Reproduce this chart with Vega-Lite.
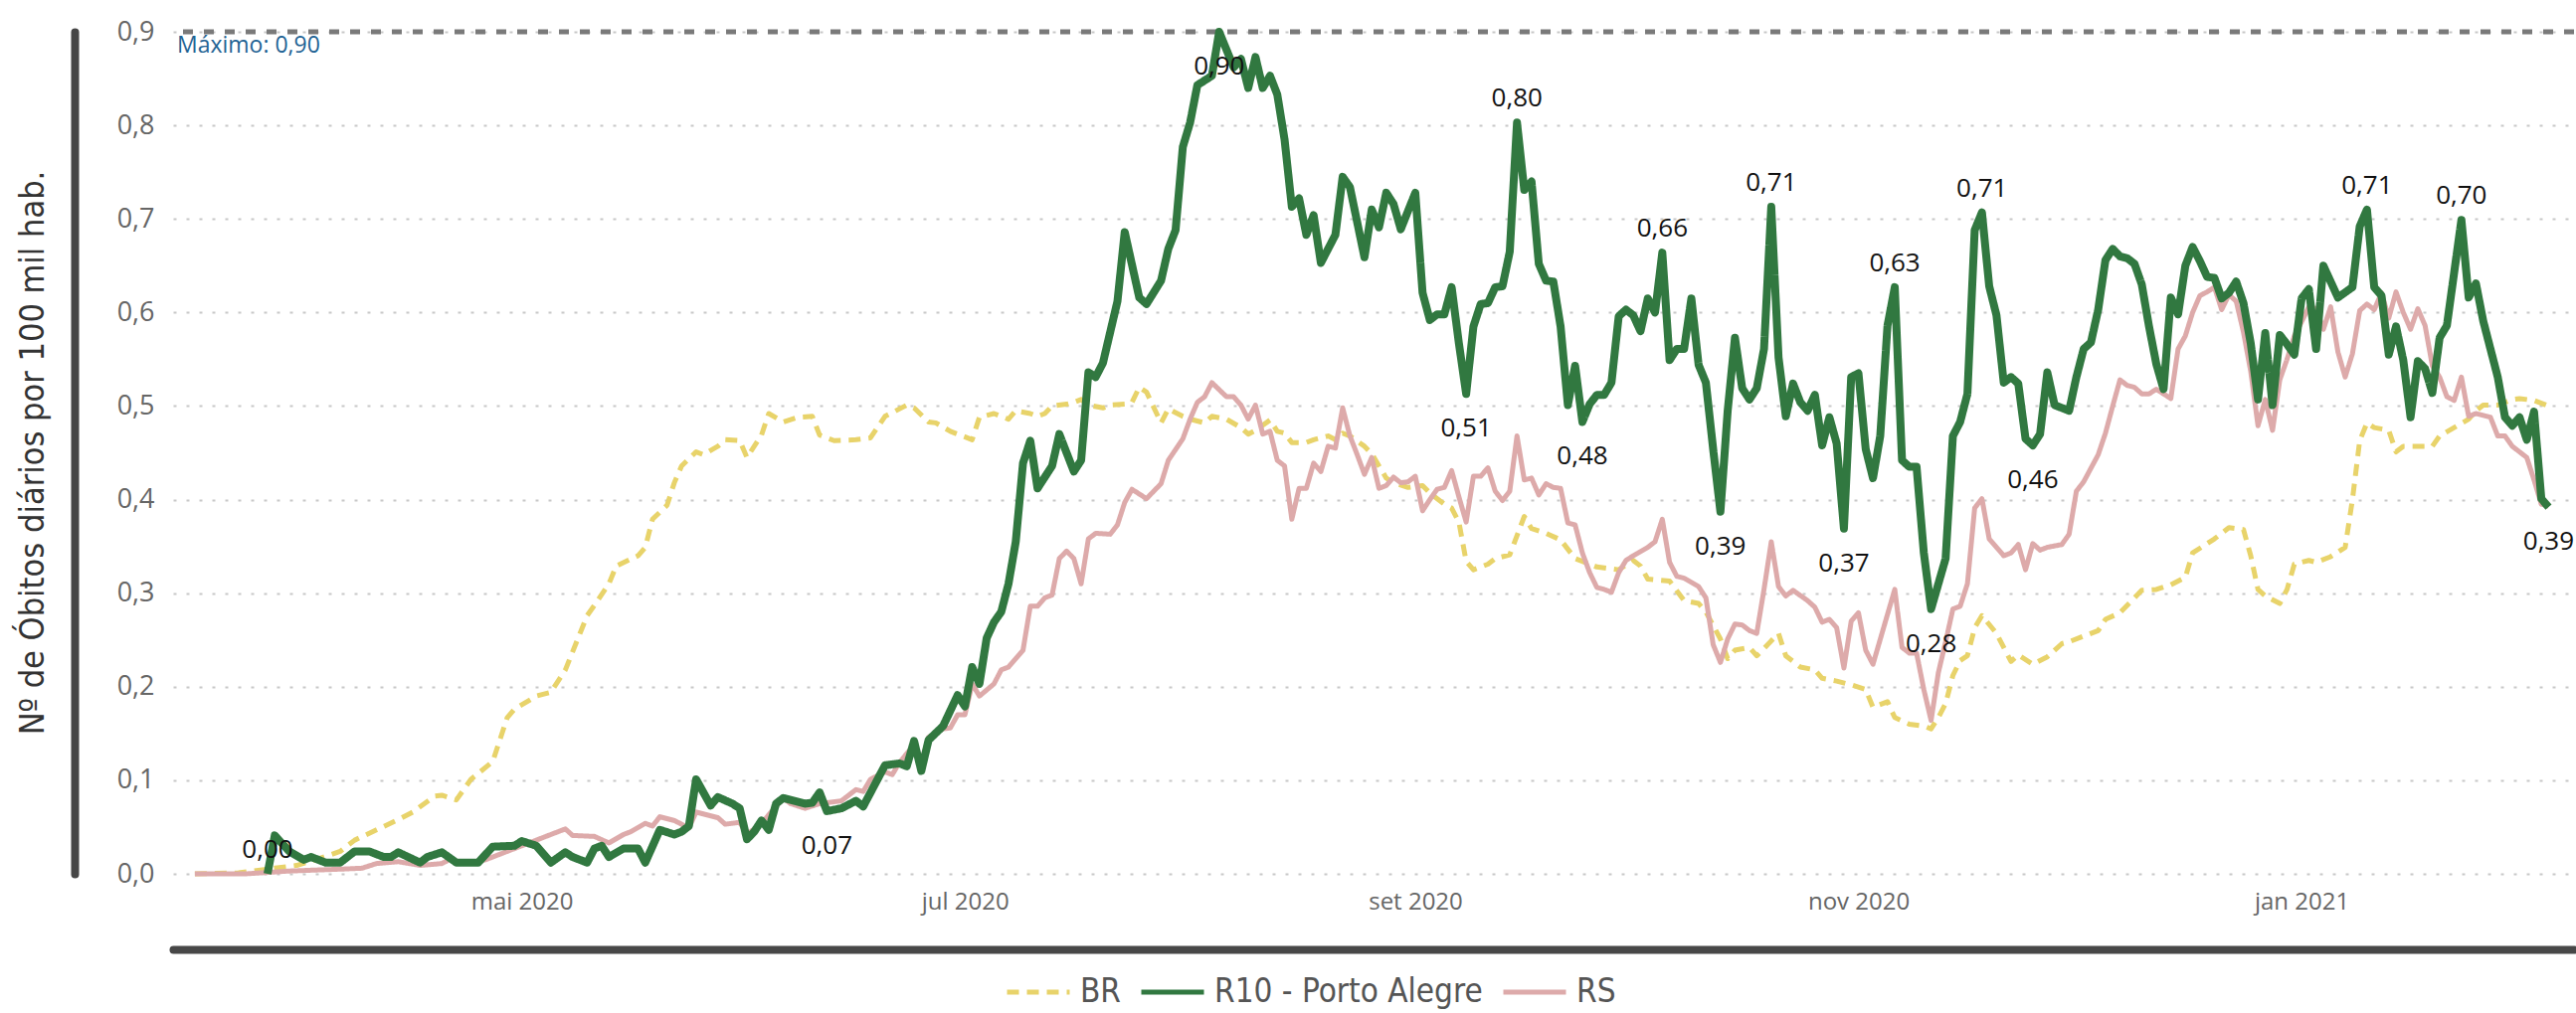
{
"$schema":"https://vega.github.io/schema/vega-lite/v6.json",
"width":2414,"height":847,
"autosize":{"type":"none"},
"padding":{"left":174,"top":32,"right":2,"bottom":140},
"background":"white",
"config":{
 "locale":{"number":{"decimal":",","thousands":".","grouping":[3],"currency":["R$",""]}},
 "view":{"stroke":null},
 "legend":{"orient":"none","legendX":836,"legendY":932,"direction":"horizontal","title":null,"symbolType":"stroke","symbolSize":3969,"symbolStrokeWidth":5,"labelFont":"DejaVu Sans Condensed","labelFontSize":33,"labelColor":"#555555","labelOffset":8,"columnPadding":10,"padding":0,"labelLimit":600}
},
"data":{"values":[
{"d":"2020-03-17","s":"BR","v":0},{"d":"2020-03-23","s":"BR","v":0.001},{"d":"2020-03-28","s":"BR","v":0.006},{"d":"2020-03-31","s":"BR","v":0.009},{"d":"2020-04-03","s":"BR","v":0.016},{"d":"2020-04-06","s":"BR","v":0.024},{"d":"2020-04-08","s":"BR","v":0.036},{"d":"2020-04-11","s":"BR","v":0.047},{"d":"2020-04-14","s":"BR","v":0.058},{"d":"2020-04-16","s":"BR","v":0.066},{"d":"2020-04-19","s":"BR","v":0.083},{"d":"2020-04-20","s":"BR","v":0.084},{"d":"2020-04-22","s":"BR","v":0.079},{"d":"2020-04-24","s":"BR","v":0.101},{"d":"2020-04-27","s":"BR","v":0.12},{"d":"2020-04-29","s":"BR","v":0.167},{"d":"2020-04-30","s":"BR","v":0.176},
{"d":"2020-05-03","s":"BR","v":0.19},{"d":"2020-05-05","s":"BR","v":0.194},{"d":"2020-05-07","s":"BR","v":0.218},{"d":"2020-05-10","s":"BR","v":0.276},{"d":"2020-05-11","s":"BR","v":0.287},{"d":"2020-05-13","s":"BR","v":0.31},{"d":"2020-05-14","s":"BR","v":0.329},{"d":"2020-05-17","s":"BR","v":0.34},{"d":"2020-05-18","s":"BR","v":0.349},{"d":"2020-05-19","s":"BR","v":0.379},{"d":"2020-05-21","s":"BR","v":0.394},{"d":"2020-05-22","s":"BR","v":0.418},{"d":"2020-05-23","s":"BR","v":0.436},{"d":"2020-05-25","s":"BR","v":0.451},{"d":"2020-05-26","s":"BR","v":0.448},{"d":"2020-05-28","s":"BR","v":0.457},{"d":"2020-05-29","s":"BR","v":0.464},{"d":"2020-05-31","s":"BR","v":0.463},
{"d":"2020-06-01","s":"BR","v":0.445},{"d":"2020-06-03","s":"BR","v":0.469},{"d":"2020-06-04","s":"BR","v":0.492},{"d":"2020-06-06","s":"BR","v":0.483},{"d":"2020-06-08","s":"BR","v":0.488},{"d":"2020-06-10","s":"BR","v":0.489},{"d":"2020-06-11","s":"BR","v":0.469},{"d":"2020-06-13","s":"BR","v":0.463},{"d":"2020-06-16","s":"BR","v":0.464},{"d":"2020-06-18","s":"BR","v":0.466},{"d":"2020-06-20","s":"BR","v":0.489},{"d":"2020-06-23","s":"BR","v":0.501},{"d":"2020-06-24","s":"BR","v":0.498},{"d":"2020-06-26","s":"BR","v":0.483},{"d":"2020-06-27","s":"BR","v":0.482},{"d":"2020-06-29","s":"BR","v":0.473},
{"d":"2020-07-02","s":"BR","v":0.464},{"d":"2020-07-03","s":"BR","v":0.488},{"d":"2020-07-05","s":"BR","v":0.492},{"d":"2020-07-07","s":"BR","v":0.486},{"d":"2020-07-08","s":"BR","v":0.495},{"d":"2020-07-10","s":"BR","v":0.492},{"d":"2020-07-11","s":"BR","v":0.489},{"d":"2020-07-12","s":"BR","v":0.492},{"d":"2020-07-13","s":"BR","v":0.5},{"d":"2020-07-15","s":"BR","v":0.502},{"d":"2020-07-16","s":"BR","v":0.504},{"d":"2020-07-17","s":"BR","v":0.507},{"d":"2020-07-18","s":"BR","v":0.501},{"d":"2020-07-20","s":"BR","v":0.498},{"d":"2020-07-21","s":"BR","v":0.501},{"d":"2020-07-23","s":"BR","v":0.502},{"d":"2020-07-24","s":"BR","v":0.504},{"d":"2020-07-25","s":"BR","v":0.52},{"d":"2020-07-26","s":"BR","v":0.515},{"d":"2020-07-28","s":"BR","v":0.482},{"d":"2020-07-29","s":"BR","v":0.497},{"d":"2020-07-31","s":"BR","v":0.489},
{"d":"2020-08-01","s":"BR","v":0.486},{"d":"2020-08-03","s":"BR","v":0.482},{"d":"2020-08-04","s":"BR","v":0.489},{"d":"2020-08-06","s":"BR","v":0.486},{"d":"2020-08-08","s":"BR","v":0.477},{"d":"2020-08-09","s":"BR","v":0.47},{"d":"2020-08-10","s":"BR","v":0.474},{"d":"2020-08-12","s":"BR","v":0.485},{"d":"2020-08-13","s":"BR","v":0.473},{"d":"2020-08-14","s":"BR","v":0.471},{"d":"2020-08-15","s":"BR","v":0.461},{"d":"2020-08-17","s":"BR","v":0.461},{"d":"2020-08-18","s":"BR","v":0.464},{"d":"2020-08-20","s":"BR","v":0.468},{"d":"2020-08-21","s":"BR","v":0.464},{"d":"2020-08-22","s":"BR","v":0.471},{"d":"2020-08-23","s":"BR","v":0.468},{"d":"2020-08-25","s":"BR","v":0.457},{"d":"2020-08-26","s":"BR","v":0.449},{"d":"2020-08-28","s":"BR","v":0.423},{"d":"2020-08-29","s":"BR","v":0.418},{"d":"2020-08-31","s":"BR","v":0.413},
{"d":"2020-09-02","s":"BR","v":0.415},{"d":"2020-09-03","s":"BR","v":0.407},{"d":"2020-09-05","s":"BR","v":0.395},{"d":"2020-09-06","s":"BR","v":0.391},{"d":"2020-09-07","s":"BR","v":0.376},{"d":"2020-09-08","s":"BR","v":0.334},{"d":"2020-09-09","s":"BR","v":0.325},{"d":"2020-09-11","s":"BR","v":0.331},{"d":"2020-09-12","s":"BR","v":0.337},{"d":"2020-09-14","s":"BR","v":0.341},{"d":"2020-09-16","s":"BR","v":0.382},{"d":"2020-09-17","s":"BR","v":0.369},{"d":"2020-09-19","s":"BR","v":0.364},{"d":"2020-09-21","s":"BR","v":0.357},{"d":"2020-09-23","s":"BR","v":0.337},{"d":"2020-09-25","s":"BR","v":0.331},{"d":"2020-09-26","s":"BR","v":0.328},{"d":"2020-09-29","s":"BR","v":0.325},
{"d":"2020-10-01","s":"BR","v":0.335},{"d":"2020-10-02","s":"BR","v":0.329},{"d":"2020-10-03","s":"BR","v":0.315},{"d":"2020-10-06","s":"BR","v":0.313},{"d":"2020-10-08","s":"BR","v":0.292},{"d":"2020-10-10","s":"BR","v":0.289},{"d":"2020-10-11","s":"BR","v":0.28},{"d":"2020-10-13","s":"BR","v":0.251},{"d":"2020-10-14","s":"BR","v":0.23},{"d":"2020-10-15","s":"BR","v":0.239},{"d":"2020-10-17","s":"BR","v":0.242},{"d":"2020-10-18","s":"BR","v":0.233},{"d":"2020-10-21","s":"BR","v":0.257},{"d":"2020-10-22","s":"BR","v":0.233},{"d":"2020-10-24","s":"BR","v":0.221},{"d":"2020-10-26","s":"BR","v":0.218},{"d":"2020-10-27","s":"BR","v":0.209},{"d":"2020-10-29","s":"BR","v":0.206},{"d":"2020-10-31","s":"BR","v":0.202},
{"d":"2020-11-02","s":"BR","v":0.197},{"d":"2020-11-03","s":"BR","v":0.178},{"d":"2020-11-05","s":"BR","v":0.184},{"d":"2020-11-06","s":"BR","v":0.167},{"d":"2020-11-08","s":"BR","v":0.16},{"d":"2020-11-10","s":"BR","v":0.158},{"d":"2020-11-11","s":"BR","v":0.155},{"d":"2020-11-12","s":"BR","v":0.167},{"d":"2020-11-13","s":"BR","v":0.182},{"d":"2020-11-14","s":"BR","v":0.212},{"d":"2020-11-15","s":"BR","v":0.228},{"d":"2020-11-16","s":"BR","v":0.233},{"d":"2020-11-17","s":"BR","v":0.263},{"d":"2020-11-18","s":"BR","v":0.276},{"d":"2020-11-20","s":"BR","v":0.257},{"d":"2020-11-22","s":"BR","v":0.227},{"d":"2020-11-23","s":"BR","v":0.234},{"d":"2020-11-25","s":"BR","v":0.224},{"d":"2020-11-27","s":"BR","v":0.232},{"d":"2020-11-29","s":"BR","v":0.246},{"d":"2020-11-30","s":"BR","v":0.248},
{"d":"2020-12-02","s":"BR","v":0.254},{"d":"2020-12-04","s":"BR","v":0.26},{"d":"2020-12-05","s":"BR","v":0.272},{"d":"2020-12-07","s":"BR","v":0.279},{"d":"2020-12-09","s":"BR","v":0.295},{"d":"2020-12-10","s":"BR","v":0.303},{"d":"2020-12-12","s":"BR","v":0.304},{"d":"2020-12-14","s":"BR","v":0.309},{"d":"2020-12-16","s":"BR","v":0.317},{"d":"2020-12-17","s":"BR","v":0.343},{"d":"2020-12-19","s":"BR","v":0.353},{"d":"2020-12-20","s":"BR","v":0.358},{"d":"2020-12-22","s":"BR","v":0.37},{"d":"2020-12-24","s":"BR","v":0.368},{"d":"2020-12-25","s":"BR","v":0.34},{"d":"2020-12-26","s":"BR","v":0.304},{"d":"2020-12-27","s":"BR","v":0.297},{"d":"2020-12-29","s":"BR","v":0.289},{"d":"2020-12-30","s":"BR","v":0.304},{"d":"2020-12-31","s":"BR","v":0.331},
{"d":"2021-01-02","s":"BR","v":0.335},{"d":"2021-01-03","s":"BR","v":0.333},{"d":"2021-01-05","s":"BR","v":0.339},{"d":"2021-01-07","s":"BR","v":0.349},{"d":"2021-01-08","s":"BR","v":0.4},{"d":"2021-01-09","s":"BR","v":0.463},{"d":"2021-01-10","s":"BR","v":0.482},{"d":"2021-01-11","s":"BR","v":0.477},{"d":"2021-01-13","s":"BR","v":0.474},{"d":"2021-01-14","s":"BR","v":0.451},{"d":"2021-01-15","s":"BR","v":0.457},{"d":"2021-01-17","s":"BR","v":0.457},{"d":"2021-01-19","s":"BR","v":0.457},{"d":"2021-01-20","s":"BR","v":0.468},{"d":"2021-01-22","s":"BR","v":0.477},{"d":"2021-01-24","s":"BR","v":0.486},{"d":"2021-01-25","s":"BR","v":0.495},{"d":"2021-01-26","s":"BR","v":0.501},{"d":"2021-01-28","s":"BR","v":0.501},{"d":"2021-01-30","s":"BR","v":0.507},{"d":"2021-01-31","s":"BR","v":0.508},{"d":"2021-02-02","s":"BR","v":0.506},{"d":"2021-02-04","s":"BR","v":0.5},

{"d":"2020-03-17","s":"RS","v":0},{"d":"2020-03-24","s":"RS","v":0},{"d":"2020-03-30","s":"RS","v":0.003},{"d":"2020-04-06","s":"RS","v":0.005},{"d":"2020-04-09","s":"RS","v":0.006},{"d":"2020-04-11","s":"RS","v":0.011},{"d":"2020-04-14","s":"RS","v":0.013},{"d":"2020-04-17","s":"RS","v":0.009},{"d":"2020-04-20","s":"RS","v":0.011},{"d":"2020-04-21","s":"RS","v":0.015},{"d":"2020-04-23","s":"RS","v":0.011},{"d":"2020-04-26","s":"RS","v":0.015},{"d":"2020-04-28","s":"RS","v":0.021},{"d":"2020-04-30","s":"RS","v":0.027},
{"d":"2020-05-03","s":"RS","v":0.036},{"d":"2020-05-05","s":"RS","v":0.042},{"d":"2020-05-07","s":"RS","v":0.048},{"d":"2020-05-08","s":"RS","v":0.041},{"d":"2020-05-11","s":"RS","v":0.04},{"d":"2020-05-13","s":"RS","v":0.033},{"d":"2020-05-15","s":"RS","v":0.042},{"d":"2020-05-16","s":"RS","v":0.045},{"d":"2020-05-18","s":"RS","v":0.054},{"d":"2020-05-19","s":"RS","v":0.051},{"d":"2020-05-20","s":"RS","v":0.061},{"d":"2020-05-22","s":"RS","v":0.057},{"d":"2020-05-24","s":"RS","v":0.049},{"d":"2020-05-25","s":"RS","v":0.066},{"d":"2020-05-28","s":"RS","v":0.06},{"d":"2020-05-29","s":"RS","v":0.053},{"d":"2020-05-31","s":"RS","v":0.055},
{"d":"2020-06-01","s":"RS","v":0.042},{"d":"2020-06-03","s":"RS","v":0.054},{"d":"2020-06-04","s":"RS","v":0.063},{"d":"2020-06-06","s":"RS","v":0.081},{"d":"2020-06-07","s":"RS","v":0.075},{"d":"2020-06-09","s":"RS","v":0.07},{"d":"2020-06-11","s":"RS","v":0.075},{"d":"2020-06-14","s":"RS","v":0.078},{"d":"2020-06-16","s":"RS","v":0.09},{"d":"2020-06-17","s":"RS","v":0.088},{"d":"2020-06-18","s":"RS","v":0.101},{"d":"2020-06-20","s":"RS","v":0.109},{"d":"2020-06-21","s":"RS","v":0.106},{"d":"2020-06-22","s":"RS","v":0.119},{"d":"2020-06-24","s":"RS","v":0.138},{"d":"2020-06-25","s":"RS","v":0.119},{"d":"2020-06-26","s":"RS","v":0.146},{"d":"2020-06-28","s":"RS","v":0.155},{"d":"2020-06-29","s":"RS","v":0.156},{"d":"2020-06-30","s":"RS","v":0.17},
{"d":"2020-07-01","s":"RS","v":0.17},{"d":"2020-07-02","s":"RS","v":0.203},{"d":"2020-07-03","s":"RS","v":0.19},{"d":"2020-07-05","s":"RS","v":0.203},{"d":"2020-07-06","s":"RS","v":0.218},{"d":"2020-07-07","s":"RS","v":0.221},{"d":"2020-07-09","s":"RS","v":0.239},{"d":"2020-07-10","s":"RS","v":0.286},{"d":"2020-07-11","s":"RS","v":0.286},{"d":"2020-07-12","s":"RS","v":0.295},{"d":"2020-07-13","s":"RS","v":0.298},{"d":"2020-07-14","s":"RS","v":0.337},{"d":"2020-07-15","s":"RS","v":0.345},{"d":"2020-07-16","s":"RS","v":0.337},{"d":"2020-07-17","s":"RS","v":0.31},{"d":"2020-07-18","s":"RS","v":0.358},{"d":"2020-07-19","s":"RS","v":0.364},{"d":"2020-07-21","s":"RS","v":0.363},{"d":"2020-07-22","s":"RS","v":0.373},{"d":"2020-07-23","s":"RS","v":0.397},{"d":"2020-07-24","s":"RS","v":0.411},{"d":"2020-07-26","s":"RS","v":0.401},{"d":"2020-07-27","s":"RS","v":0.409},{"d":"2020-07-28","s":"RS","v":0.417},{"d":"2020-07-29","s":"RS","v":0.442},{"d":"2020-07-31","s":"RS","v":0.465},
{"d":"2020-08-01","s":"RS","v":0.486},{"d":"2020-08-02","s":"RS","v":0.504},{"d":"2020-08-03","s":"RS","v":0.51},{"d":"2020-08-04","s":"RS","v":0.525},{"d":"2020-08-06","s":"RS","v":0.51},{"d":"2020-08-07","s":"RS","v":0.51},{"d":"2020-08-08","s":"RS","v":0.501},{"d":"2020-08-09","s":"RS","v":0.486},{"d":"2020-08-10","s":"RS","v":0.501},{"d":"2020-08-11","s":"RS","v":0.47},{"d":"2020-08-12","s":"RS","v":0.473},{"d":"2020-08-13","s":"RS","v":0.442},{"d":"2020-08-14","s":"RS","v":0.436},{"d":"2020-08-15","s":"RS","v":0.379},{"d":"2020-08-16","s":"RS","v":0.412},{"d":"2020-08-17","s":"RS","v":0.412},{"d":"2020-08-18","s":"RS","v":0.439},{"d":"2020-08-19","s":"RS","v":0.43},{"d":"2020-08-20","s":"RS","v":0.457},{"d":"2020-08-21","s":"RS","v":0.455},{"d":"2020-08-22","s":"RS","v":0.498},{"d":"2020-08-23","s":"RS","v":0.468},{"d":"2020-08-24","s":"RS","v":0.448},{"d":"2020-08-25","s":"RS","v":0.427},{"d":"2020-08-26","s":"RS","v":0.445},{"d":"2020-08-27","s":"RS","v":0.412},{"d":"2020-08-28","s":"RS","v":0.415},{"d":"2020-08-29","s":"RS","v":0.424},{"d":"2020-08-30","s":"RS","v":0.418},{"d":"2020-08-31","s":"RS","v":0.419},
{"d":"2020-09-01","s":"RS","v":0.425},{"d":"2020-09-02","s":"RS","v":0.388},{"d":"2020-09-03","s":"RS","v":0.4},{"d":"2020-09-04","s":"RS","v":0.411},{"d":"2020-09-05","s":"RS","v":0.413},{"d":"2020-09-06","s":"RS","v":0.431},{"d":"2020-09-07","s":"RS","v":0.403},{"d":"2020-09-08","s":"RS","v":0.376},{"d":"2020-09-09","s":"RS","v":0.425},{"d":"2020-09-10","s":"RS","v":0.425},{"d":"2020-09-11","s":"RS","v":0.434},{"d":"2020-09-12","s":"RS","v":0.409},{"d":"2020-09-13","s":"RS","v":0.399},{"d":"2020-09-14","s":"RS","v":0.409},{"d":"2020-09-15","s":"RS","v":0.468},{"d":"2020-09-16","s":"RS","v":0.421},{"d":"2020-09-17","s":"RS","v":0.423},{"d":"2020-09-18","s":"RS","v":0.405},{"d":"2020-09-19","s":"RS","v":0.417},{"d":"2020-09-20","s":"RS","v":0.413},{"d":"2020-09-21","s":"RS","v":0.412},{"d":"2020-09-22","s":"RS","v":0.375},{"d":"2020-09-23","s":"RS","v":0.373},{"d":"2020-09-24","s":"RS","v":0.343},{"d":"2020-09-25","s":"RS","v":0.322},{"d":"2020-09-26","s":"RS","v":0.306},{"d":"2020-09-27","s":"RS","v":0.304},{"d":"2020-09-28","s":"RS","v":0.301},{"d":"2020-09-29","s":"RS","v":0.322},{"d":"2020-09-30","s":"RS","v":0.335},
{"d":"2020-10-01","s":"RS","v":0.34},{"d":"2020-10-03","s":"RS","v":0.349},{"d":"2020-10-04","s":"RS","v":0.355},{"d":"2020-10-05","s":"RS","v":0.379},{"d":"2020-10-06","s":"RS","v":0.333},{"d":"2020-10-07","s":"RS","v":0.318},{"d":"2020-10-08","s":"RS","v":0.316},{"d":"2020-10-10","s":"RS","v":0.307},{"d":"2020-10-11","s":"RS","v":0.295},{"d":"2020-10-12","s":"RS","v":0.245},{"d":"2020-10-13","s":"RS","v":0.226},{"d":"2020-10-14","s":"RS","v":0.251},{"d":"2020-10-15","s":"RS","v":0.267},{"d":"2020-10-16","s":"RS","v":0.266},{"d":"2020-10-17","s":"RS","v":0.26},{"d":"2020-10-18","s":"RS","v":0.257},{"d":"2020-10-19","s":"RS","v":0.304},{"d":"2020-10-20","s":"RS","v":0.355},{"d":"2020-10-21","s":"RS","v":0.307},{"d":"2020-10-22","s":"RS","v":0.297},{"d":"2020-10-23","s":"RS","v":0.303},{"d":"2020-10-25","s":"RS","v":0.292},{"d":"2020-10-26","s":"RS","v":0.285},{"d":"2020-10-27","s":"RS","v":0.269},{"d":"2020-10-28","s":"RS","v":0.272},{"d":"2020-10-29","s":"RS","v":0.263},{"d":"2020-10-30","s":"RS","v":0.22},{"d":"2020-10-31","s":"RS","v":0.27},
{"d":"2020-11-01","s":"RS","v":0.279},{"d":"2020-11-02","s":"RS","v":0.239},{"d":"2020-11-03","s":"RS","v":0.224},{"d":"2020-11-06","s":"RS","v":0.304},{"d":"2020-11-07","s":"RS","v":0.242},{"d":"2020-11-08","s":"RS","v":0.236},{"d":"2020-11-09","s":"RS","v":0.236},{"d":"2020-11-10","s":"RS","v":0.197},{"d":"2020-11-11","s":"RS","v":0.164},{"d":"2020-11-12","s":"RS","v":0.215},{"d":"2020-11-13","s":"RS","v":0.248},{"d":"2020-11-14","s":"RS","v":0.283},{"d":"2020-11-15","s":"RS","v":0.286},{"d":"2020-11-16","s":"RS","v":0.31},{"d":"2020-11-17","s":"RS","v":0.391},{"d":"2020-11-18","s":"RS","v":0.401},{"d":"2020-11-19","s":"RS","v":0.358},{"d":"2020-11-20","s":"RS","v":0.349},{"d":"2020-11-21","s":"RS","v":0.34},{"d":"2020-11-22","s":"RS","v":0.343},{"d":"2020-11-23","s":"RS","v":0.352},{"d":"2020-11-24","s":"RS","v":0.325},{"d":"2020-11-25","s":"RS","v":0.353},{"d":"2020-11-26","s":"RS","v":0.346},{"d":"2020-11-27","s":"RS","v":0.349},{"d":"2020-11-29","s":"RS","v":0.352},{"d":"2020-11-30","s":"RS","v":0.363},
{"d":"2020-12-01","s":"RS","v":0.409},{"d":"2020-12-02","s":"RS","v":0.419},{"d":"2020-12-04","s":"RS","v":0.448},{"d":"2020-12-05","s":"RS","v":0.471},{"d":"2020-12-06","s":"RS","v":0.5},{"d":"2020-12-07","s":"RS","v":0.528},{"d":"2020-12-08","s":"RS","v":0.522},{"d":"2020-12-09","s":"RS","v":0.52},{"d":"2020-12-10","s":"RS","v":0.513},{"d":"2020-12-11","s":"RS","v":0.513},{"d":"2020-12-12","s":"RS","v":0.518},{"d":"2020-12-14","s":"RS","v":0.508},{"d":"2020-12-15","s":"RS","v":0.561},{"d":"2020-12-16","s":"RS","v":0.575},{"d":"2020-12-17","s":"RS","v":0.6},{"d":"2020-12-18","s":"RS","v":0.618},{"d":"2020-12-19","s":"RS","v":0.622},{"d":"2020-12-20","s":"RS","v":0.627},{"d":"2020-12-21","s":"RS","v":0.603},{"d":"2020-12-22","s":"RS","v":0.619},{"d":"2020-12-23","s":"RS","v":0.612},{"d":"2020-12-24","s":"RS","v":0.579},{"d":"2020-12-25","s":"RS","v":0.537},{"d":"2020-12-26","s":"RS","v":0.479},{"d":"2020-12-27","s":"RS","v":0.507},{"d":"2020-12-28","s":"RS","v":0.474},{"d":"2020-12-29","s":"RS","v":0.528},{"d":"2020-12-30","s":"RS","v":0.55},{"d":"2020-12-31","s":"RS","v":0.575},
{"d":"2021-01-01","s":"RS","v":0.59},{"d":"2021-01-02","s":"RS","v":0.606},{"d":"2021-01-03","s":"RS","v":0.604},{"d":"2021-01-04","s":"RS","v":0.582},{"d":"2021-01-05","s":"RS","v":0.606},{"d":"2021-01-06","s":"RS","v":0.558},{"d":"2021-01-07","s":"RS","v":0.531},{"d":"2021-01-08","s":"RS","v":0.556},{"d":"2021-01-09","s":"RS","v":0.602},{"d":"2021-01-10","s":"RS","v":0.609},{"d":"2021-01-11","s":"RS","v":0.603},{"d":"2021-01-12","s":"RS","v":0.621},{"d":"2021-01-13","s":"RS","v":0.594},{"d":"2021-01-14","s":"RS","v":0.622},{"d":"2021-01-15","s":"RS","v":0.6},{"d":"2021-01-16","s":"RS","v":0.582},{"d":"2021-01-17","s":"RS","v":0.604},{"d":"2021-01-18","s":"RS","v":0.586},{"d":"2021-01-19","s":"RS","v":0.543},{"d":"2021-01-20","s":"RS","v":0.531},{"d":"2021-01-21","s":"RS","v":0.51},{"d":"2021-01-22","s":"RS","v":0.506},{"d":"2021-01-23","s":"RS","v":0.531},{"d":"2021-01-24","s":"RS","v":0.489},{"d":"2021-01-25","s":"RS","v":0.492},{"d":"2021-01-27","s":"RS","v":0.488},{"d":"2021-01-28","s":"RS","v":0.468},{"d":"2021-01-29","s":"RS","v":0.468},{"d":"2021-01-30","s":"RS","v":0.457},{"d":"2021-01-31","s":"RS","v":0.451},{"d":"2021-02-01","s":"RS","v":0.445},{"d":"2021-02-02","s":"RS","v":0.421},{"d":"2021-02-03","s":"RS","v":0.395},{"d":"2021-02-04","s":"RS","v":0.393},

{"d":"2020-03-27","s":"R10 - Porto Alegre","v":0,"t":"vale"},{"d":"2020-03-28","s":"R10 - Porto Alegre","v":0.041},{"d":"2020-03-30","s":"R10 - Porto Alegre","v":0.024},{"d":"2020-04-01","s":"R10 - Porto Alegre","v":0.015},{"d":"2020-04-02","s":"R10 - Porto Alegre","v":0.018},{"d":"2020-04-04","s":"R10 - Porto Alegre","v":0.012},{"d":"2020-04-06","s":"R10 - Porto Alegre","v":0.012},{"d":"2020-04-08","s":"R10 - Porto Alegre","v":0.024},{"d":"2020-04-10","s":"R10 - Porto Alegre","v":0.024},{"d":"2020-04-12","s":"R10 - Porto Alegre","v":0.018},{"d":"2020-04-13","s":"R10 - Porto Alegre","v":0.018},{"d":"2020-04-14","s":"R10 - Porto Alegre","v":0.023},{"d":"2020-04-17","s":"R10 - Porto Alegre","v":0.012},{"d":"2020-04-18","s":"R10 - Porto Alegre","v":0.018},{"d":"2020-04-20","s":"R10 - Porto Alegre","v":0.023},{"d":"2020-04-22","s":"R10 - Porto Alegre","v":0.012},{"d":"2020-04-25","s":"R10 - Porto Alegre","v":0.012},{"d":"2020-04-27","s":"R10 - Porto Alegre","v":0.029},{"d":"2020-04-30","s":"R10 - Porto Alegre","v":0.03},
{"d":"2020-05-01","s":"R10 - Porto Alegre","v":0.035},{"d":"2020-05-03","s":"R10 - Porto Alegre","v":0.03},{"d":"2020-05-05","s":"R10 - Porto Alegre","v":0.012},{"d":"2020-05-07","s":"R10 - Porto Alegre","v":0.023},{"d":"2020-05-08","s":"R10 - Porto Alegre","v":0.018},{"d":"2020-05-10","s":"R10 - Porto Alegre","v":0.012},{"d":"2020-05-11","s":"R10 - Porto Alegre","v":0.027},{"d":"2020-05-12","s":"R10 - Porto Alegre","v":0.03},{"d":"2020-05-13","s":"R10 - Porto Alegre","v":0.018},{"d":"2020-05-15","s":"R10 - Porto Alegre","v":0.027},{"d":"2020-05-17","s":"R10 - Porto Alegre","v":0.027},{"d":"2020-05-18","s":"R10 - Porto Alegre","v":0.012},{"d":"2020-05-20","s":"R10 - Porto Alegre","v":0.047},{"d":"2020-05-22","s":"R10 - Porto Alegre","v":0.042},{"d":"2020-05-23","s":"R10 - Porto Alegre","v":0.045},{"d":"2020-05-24","s":"R10 - Porto Alegre","v":0.051},{"d":"2020-05-25","s":"R10 - Porto Alegre","v":0.101},{"d":"2020-05-27","s":"R10 - Porto Alegre","v":0.073},{"d":"2020-05-28","s":"R10 - Porto Alegre","v":0.082},{"d":"2020-05-30","s":"R10 - Porto Alegre","v":0.075},{"d":"2020-05-31","s":"R10 - Porto Alegre","v":0.07},
{"d":"2020-06-01","s":"R10 - Porto Alegre","v":0.037},{"d":"2020-06-02","s":"R10 - Porto Alegre","v":0.045},{"d":"2020-06-03","s":"R10 - Porto Alegre","v":0.057},{"d":"2020-06-04","s":"R10 - Porto Alegre","v":0.047},{"d":"2020-06-05","s":"R10 - Porto Alegre","v":0.075},{"d":"2020-06-06","s":"R10 - Porto Alegre","v":0.081},{"d":"2020-06-09","s":"R10 - Porto Alegre","v":0.075},{"d":"2020-06-10","s":"R10 - Porto Alegre","v":0.076},{"d":"2020-06-11","s":"R10 - Porto Alegre","v":0.087},{"d":"2020-06-12","s":"R10 - Porto Alegre","v":0.067,"t":"vale"},{"d":"2020-06-14","s":"R10 - Porto Alegre","v":0.07},{"d":"2020-06-16","s":"R10 - Porto Alegre","v":0.078},{"d":"2020-06-17","s":"R10 - Porto Alegre","v":0.072},{"d":"2020-06-20","s":"R10 - Porto Alegre","v":0.116},{"d":"2020-06-22","s":"R10 - Porto Alegre","v":0.118},{"d":"2020-06-23","s":"R10 - Porto Alegre","v":0.115},{"d":"2020-06-24","s":"R10 - Porto Alegre","v":0.142},{"d":"2020-06-25","s":"R10 - Porto Alegre","v":0.11},{"d":"2020-06-26","s":"R10 - Porto Alegre","v":0.143},{"d":"2020-06-28","s":"R10 - Porto Alegre","v":0.158},{"d":"2020-06-30","s":"R10 - Porto Alegre","v":0.191},
{"d":"2020-07-01","s":"R10 - Porto Alegre","v":0.179},{"d":"2020-07-02","s":"R10 - Porto Alegre","v":0.221},{"d":"2020-07-03","s":"R10 - Porto Alegre","v":0.203},{"d":"2020-07-04","s":"R10 - Porto Alegre","v":0.252},{"d":"2020-07-05","s":"R10 - Porto Alegre","v":0.269},{"d":"2020-07-06","s":"R10 - Porto Alegre","v":0.28},{"d":"2020-07-07","s":"R10 - Porto Alegre","v":0.31},{"d":"2020-07-08","s":"R10 - Porto Alegre","v":0.355},{"d":"2020-07-09","s":"R10 - Porto Alegre","v":0.439},{"d":"2020-07-10","s":"R10 - Porto Alegre","v":0.463},{"d":"2020-07-11","s":"R10 - Porto Alegre","v":0.412},{"d":"2020-07-13","s":"R10 - Porto Alegre","v":0.436},{"d":"2020-07-14","s":"R10 - Porto Alegre","v":0.47},{"d":"2020-07-16","s":"R10 - Porto Alegre","v":0.43},{"d":"2020-07-17","s":"R10 - Porto Alegre","v":0.442},{"d":"2020-07-18","s":"R10 - Porto Alegre","v":0.536},{"d":"2020-07-19","s":"R10 - Porto Alegre","v":0.531},{"d":"2020-07-20","s":"R10 - Porto Alegre","v":0.546},{"d":"2020-07-22","s":"R10 - Porto Alegre","v":0.612},{"d":"2020-07-23","s":"R10 - Porto Alegre","v":0.686},{"d":"2020-07-25","s":"R10 - Porto Alegre","v":0.616},{"d":"2020-07-26","s":"R10 - Porto Alegre","v":0.609},{"d":"2020-07-28","s":"R10 - Porto Alegre","v":0.634},{"d":"2020-07-29","s":"R10 - Porto Alegre","v":0.668},{"d":"2020-07-30","s":"R10 - Porto Alegre","v":0.688},{"d":"2020-07-31","s":"R10 - Porto Alegre","v":0.777},
{"d":"2020-08-01","s":"R10 - Porto Alegre","v":0.803},{"d":"2020-08-02","s":"R10 - Porto Alegre","v":0.843},{"d":"2020-08-04","s":"R10 - Porto Alegre","v":0.853},{"d":"2020-08-05","s":"R10 - Porto Alegre","v":0.9,"t":"pico"},{"d":"2020-08-07","s":"R10 - Porto Alegre","v":0.862},{"d":"2020-08-08","s":"R10 - Porto Alegre","v":0.871},{"d":"2020-08-09","s":"R10 - Porto Alegre","v":0.84},{"d":"2020-08-10","s":"R10 - Porto Alegre","v":0.873},{"d":"2020-08-11","s":"R10 - Porto Alegre","v":0.84},{"d":"2020-08-12","s":"R10 - Porto Alegre","v":0.853},{"d":"2020-08-13","s":"R10 - Porto Alegre","v":0.833},{"d":"2020-08-14","s":"R10 - Porto Alegre","v":0.785},{"d":"2020-08-15","s":"R10 - Porto Alegre","v":0.713},{"d":"2020-08-16","s":"R10 - Porto Alegre","v":0.722},{"d":"2020-08-17","s":"R10 - Porto Alegre","v":0.683},{"d":"2020-08-18","s":"R10 - Porto Alegre","v":0.704},{"d":"2020-08-19","s":"R10 - Porto Alegre","v":0.653},{"d":"2020-08-20","s":"R10 - Porto Alegre","v":0.668},{"d":"2020-08-21","s":"R10 - Porto Alegre","v":0.683},{"d":"2020-08-22","s":"R10 - Porto Alegre","v":0.745},{"d":"2020-08-23","s":"R10 - Porto Alegre","v":0.734},{"d":"2020-08-25","s":"R10 - Porto Alegre","v":0.659},{"d":"2020-08-26","s":"R10 - Porto Alegre","v":0.71},{"d":"2020-08-27","s":"R10 - Porto Alegre","v":0.691},{"d":"2020-08-28","s":"R10 - Porto Alegre","v":0.728},{"d":"2020-08-29","s":"R10 - Porto Alegre","v":0.716},{"d":"2020-08-30","s":"R10 - Porto Alegre","v":0.689},
{"d":"2020-09-01","s":"R10 - Porto Alegre","v":0.728},{"d":"2020-09-02","s":"R10 - Porto Alegre","v":0.621},{"d":"2020-09-03","s":"R10 - Porto Alegre","v":0.592},{"d":"2020-09-04","s":"R10 - Porto Alegre","v":0.598},{"d":"2020-09-05","s":"R10 - Porto Alegre","v":0.598},{"d":"2020-09-06","s":"R10 - Porto Alegre","v":0.627},{"d":"2020-09-07","s":"R10 - Porto Alegre","v":0.567},{"d":"2020-09-08","s":"R10 - Porto Alegre","v":0.513,"t":"vale"},{"d":"2020-09-09","s":"R10 - Porto Alegre","v":0.585},{"d":"2020-09-10","s":"R10 - Porto Alegre","v":0.609},{"d":"2020-09-11","s":"R10 - Porto Alegre","v":0.61},{"d":"2020-09-12","s":"R10 - Porto Alegre","v":0.627},{"d":"2020-09-13","s":"R10 - Porto Alegre","v":0.628},{"d":"2020-09-14","s":"R10 - Porto Alegre","v":0.665},{"d":"2020-09-15","s":"R10 - Porto Alegre","v":0.803,"t":"pico"},{"d":"2020-09-16","s":"R10 - Porto Alegre","v":0.731},{"d":"2020-09-17","s":"R10 - Porto Alegre","v":0.74},{"d":"2020-09-18","s":"R10 - Porto Alegre","v":0.652},{"d":"2020-09-19","s":"R10 - Porto Alegre","v":0.634},{"d":"2020-09-20","s":"R10 - Porto Alegre","v":0.633},{"d":"2020-09-21","s":"R10 - Porto Alegre","v":0.585},{"d":"2020-09-22","s":"R10 - Porto Alegre","v":0.501},{"d":"2020-09-23","s":"R10 - Porto Alegre","v":0.543},{"d":"2020-09-24","s":"R10 - Porto Alegre","v":0.483,"t":"vale"},{"d":"2020-09-25","s":"R10 - Porto Alegre","v":0.502},{"d":"2020-09-26","s":"R10 - Porto Alegre","v":0.512},{"d":"2020-09-27","s":"R10 - Porto Alegre","v":0.512},{"d":"2020-09-28","s":"R10 - Porto Alegre","v":0.525},{"d":"2020-09-29","s":"R10 - Porto Alegre","v":0.596},{"d":"2020-09-30","s":"R10 - Porto Alegre","v":0.603},
{"d":"2020-10-01","s":"R10 - Porto Alegre","v":0.597},{"d":"2020-10-02","s":"R10 - Porto Alegre","v":0.58},{"d":"2020-10-03","s":"R10 - Porto Alegre","v":0.615},{"d":"2020-10-04","s":"R10 - Porto Alegre","v":0.6},{"d":"2020-10-05","s":"R10 - Porto Alegre","v":0.664,"t":"pico"},{"d":"2020-10-06","s":"R10 - Porto Alegre","v":0.549},{"d":"2020-10-07","s":"R10 - Porto Alegre","v":0.561},{"d":"2020-10-08","s":"R10 - Porto Alegre","v":0.561},{"d":"2020-10-09","s":"R10 - Porto Alegre","v":0.615},{"d":"2020-10-10","s":"R10 - Porto Alegre","v":0.544},{"d":"2020-10-11","s":"R10 - Porto Alegre","v":0.525},{"d":"2020-10-12","s":"R10 - Porto Alegre","v":0.454},{"d":"2020-10-13","s":"R10 - Porto Alegre","v":0.387,"t":"vale"},{"d":"2020-10-14","s":"R10 - Porto Alegre","v":0.495},{"d":"2020-10-15","s":"R10 - Porto Alegre","v":0.573},{"d":"2020-10-16","s":"R10 - Porto Alegre","v":0.519},{"d":"2020-10-17","s":"R10 - Porto Alegre","v":0.507},{"d":"2020-10-18","s":"R10 - Porto Alegre","v":0.519},{"d":"2020-10-19","s":"R10 - Porto Alegre","v":0.561},{"d":"2020-10-20","s":"R10 - Porto Alegre","v":0.713,"t":"pico"},{"d":"2020-10-21","s":"R10 - Porto Alegre","v":0.552},{"d":"2020-10-22","s":"R10 - Porto Alegre","v":0.489},{"d":"2020-10-23","s":"R10 - Porto Alegre","v":0.524},{"d":"2020-10-24","s":"R10 - Porto Alegre","v":0.504},{"d":"2020-10-25","s":"R10 - Porto Alegre","v":0.495},{"d":"2020-10-26","s":"R10 - Porto Alegre","v":0.512},{"d":"2020-10-27","s":"R10 - Porto Alegre","v":0.458},{"d":"2020-10-28","s":"R10 - Porto Alegre","v":0.488},{"d":"2020-10-29","s":"R10 - Porto Alegre","v":0.46},{"d":"2020-10-30","s":"R10 - Porto Alegre","v":0.369,"t":"vale"},{"d":"2020-10-31","s":"R10 - Porto Alegre","v":0.531},
{"d":"2020-11-01","s":"R10 - Porto Alegre","v":0.535},{"d":"2020-11-02","s":"R10 - Porto Alegre","v":0.454},{"d":"2020-11-03","s":"R10 - Porto Alegre","v":0.423},{"d":"2020-11-04","s":"R10 - Porto Alegre","v":0.468},{"d":"2020-11-05","s":"R10 - Porto Alegre","v":0.586},{"d":"2020-11-06","s":"R10 - Porto Alegre","v":0.627,"t":"pico"},{"d":"2020-11-07","s":"R10 - Porto Alegre","v":0.442},{"d":"2020-11-08","s":"R10 - Porto Alegre","v":0.435},{"d":"2020-11-09","s":"R10 - Porto Alegre","v":0.435},{"d":"2020-11-10","s":"R10 - Porto Alegre","v":0.343},{"d":"2020-11-11","s":"R10 - Porto Alegre","v":0.283,"t":"vale"},{"d":"2020-11-12","s":"R10 - Porto Alegre","v":0.31},{"d":"2020-11-13","s":"R10 - Porto Alegre","v":0.337},{"d":"2020-11-14","s":"R10 - Porto Alegre","v":0.468},{"d":"2020-11-15","s":"R10 - Porto Alegre","v":0.483},{"d":"2020-11-16","s":"R10 - Porto Alegre","v":0.513},{"d":"2020-11-17","s":"R10 - Porto Alegre","v":0.688},{"d":"2020-11-18","s":"R10 - Porto Alegre","v":0.707,"t":"pico"},{"d":"2020-11-19","s":"R10 - Porto Alegre","v":0.628},{"d":"2020-11-20","s":"R10 - Porto Alegre","v":0.597},{"d":"2020-11-21","s":"R10 - Porto Alegre","v":0.525},{"d":"2020-11-22","s":"R10 - Porto Alegre","v":0.531},{"d":"2020-11-23","s":"R10 - Porto Alegre","v":0.524},{"d":"2020-11-24","s":"R10 - Porto Alegre","v":0.465},{"d":"2020-11-25","s":"R10 - Porto Alegre","v":0.458,"t":"vale"},{"d":"2020-11-26","s":"R10 - Porto Alegre","v":0.47},{"d":"2020-11-27","s":"R10 - Porto Alegre","v":0.536},{"d":"2020-11-28","s":"R10 - Porto Alegre","v":0.501},{"d":"2020-11-30","s":"R10 - Porto Alegre","v":0.495},
{"d":"2020-12-01","s":"R10 - Porto Alegre","v":0.531},{"d":"2020-12-02","s":"R10 - Porto Alegre","v":0.561},{"d":"2020-12-03","s":"R10 - Porto Alegre","v":0.568},{"d":"2020-12-04","s":"R10 - Porto Alegre","v":0.603},{"d":"2020-12-05","s":"R10 - Porto Alegre","v":0.656},{"d":"2020-12-06","s":"R10 - Porto Alegre","v":0.668},{"d":"2020-12-07","s":"R10 - Porto Alegre","v":0.66},{"d":"2020-12-08","s":"R10 - Porto Alegre","v":0.658},{"d":"2020-12-09","s":"R10 - Porto Alegre","v":0.652},{"d":"2020-12-10","s":"R10 - Porto Alegre","v":0.63},{"d":"2020-12-11","s":"R10 - Porto Alegre","v":0.585},{"d":"2020-12-12","s":"R10 - Porto Alegre","v":0.545},{"d":"2020-12-13","s":"R10 - Porto Alegre","v":0.518},{"d":"2020-12-14","s":"R10 - Porto Alegre","v":0.616},{"d":"2020-12-15","s":"R10 - Porto Alegre","v":0.598},{"d":"2020-12-16","s":"R10 - Porto Alegre","v":0.65},{"d":"2020-12-17","s":"R10 - Porto Alegre","v":0.67},{"d":"2020-12-18","s":"R10 - Porto Alegre","v":0.655},{"d":"2020-12-19","s":"R10 - Porto Alegre","v":0.638},{"d":"2020-12-20","s":"R10 - Porto Alegre","v":0.637},{"d":"2020-12-21","s":"R10 - Porto Alegre","v":0.615},{"d":"2020-12-22","s":"R10 - Porto Alegre","v":0.621},{"d":"2020-12-23","s":"R10 - Porto Alegre","v":0.633},{"d":"2020-12-24","s":"R10 - Porto Alegre","v":0.61},{"d":"2020-12-25","s":"R10 - Porto Alegre","v":0.567},{"d":"2020-12-26","s":"R10 - Porto Alegre","v":0.507},{"d":"2020-12-27","s":"R10 - Porto Alegre","v":0.578},{"d":"2020-12-28","s":"R10 - Porto Alegre","v":0.501},{"d":"2020-12-29","s":"R10 - Porto Alegre","v":0.576},{"d":"2020-12-30","s":"R10 - Porto Alegre","v":0.566},{"d":"2020-12-31","s":"R10 - Porto Alegre","v":0.555},
{"d":"2021-01-01","s":"R10 - Porto Alegre","v":0.615},{"d":"2021-01-02","s":"R10 - Porto Alegre","v":0.625},{"d":"2021-01-03","s":"R10 - Porto Alegre","v":0.561},{"d":"2021-01-04","s":"R10 - Porto Alegre","v":0.65},{"d":"2021-01-05","s":"R10 - Porto Alegre","v":0.633},{"d":"2021-01-06","s":"R10 - Porto Alegre","v":0.616},{"d":"2021-01-08","s":"R10 - Porto Alegre","v":0.627},{"d":"2021-01-09","s":"R10 - Porto Alegre","v":0.692},{"d":"2021-01-10","s":"R10 - Porto Alegre","v":0.71,"t":"pico"},{"d":"2021-01-11","s":"R10 - Porto Alegre","v":0.627},{"d":"2021-01-12","s":"R10 - Porto Alegre","v":0.618},{"d":"2021-01-13","s":"R10 - Porto Alegre","v":0.555},{"d":"2021-01-14","s":"R10 - Porto Alegre","v":0.585},{"d":"2021-01-15","s":"R10 - Porto Alegre","v":0.549},{"d":"2021-01-16","s":"R10 - Porto Alegre","v":0.488},{"d":"2021-01-17","s":"R10 - Porto Alegre","v":0.548},{"d":"2021-01-18","s":"R10 - Porto Alegre","v":0.54},{"d":"2021-01-19","s":"R10 - Porto Alegre","v":0.514},{"d":"2021-01-20","s":"R10 - Porto Alegre","v":0.573},{"d":"2021-01-21","s":"R10 - Porto Alegre","v":0.586},{"d":"2021-01-23","s":"R10 - Porto Alegre","v":0.699,"t":"pico"},{"d":"2021-01-24","s":"R10 - Porto Alegre","v":0.616},{"d":"2021-01-25","s":"R10 - Porto Alegre","v":0.631},{"d":"2021-01-26","s":"R10 - Porto Alegre","v":0.591},{"d":"2021-01-27","s":"R10 - Porto Alegre","v":0.561},{"d":"2021-01-28","s":"R10 - Porto Alegre","v":0.531},{"d":"2021-01-29","s":"R10 - Porto Alegre","v":0.488},{"d":"2021-01-30","s":"R10 - Porto Alegre","v":0.479},{"d":"2021-01-31","s":"R10 - Porto Alegre","v":0.488},{"d":"2021-02-01","s":"R10 - Porto Alegre","v":0.464},{"d":"2021-02-02","s":"R10 - Porto Alegre","v":0.494},{"d":"2021-02-03","s":"R10 - Porto Alegre","v":0.401},{"d":"2021-02-04","s":"R10 - Porto Alegre","v":0.392,"t":"vale"}
]},
"layer":[
 {"mark":{"type":"rule","color":"#7a7a7a","strokeWidth":5,"strokeDash":[10,11]},
  "encoding":{"y":{"aggregate":"max","field":"v","type":"quantitative","scale":{"domain":[0,0.9],"nice":false}}}},
 {"mark":{"type":"text","align":"left","baseline":"alphabetic","dx":4,"dy":21,"font":"Open Sans","fontSize":23,"color":"#1f6394"},
  "encoding":{"x":{"datum":{"year":2020,"month":3,"date":14,"utc":true},"type":"temporal","scale":{"type":"utc","domain":[{"year":2020,"month":3,"date":14,"utc":true},{"year":2021,"month":2,"date":7,"hours":12,"utc":true}]}},
   "y":{"aggregate":"max","field":"v","type":"quantitative","scale":{"domain":[0,0.9],"nice":false}},
   "text":{"value":"Máximo: 0,90"}}},
 {"transform":[{"filter":"datum.s === 'BR'"}],
  "mark":{"type":"line","strokeWidth":5,"strokeJoin":"round"},
  "encoding":{
   "x":{"field":"d","type":"temporal","scale":{"type":"utc","domain":[{"year":2020,"month":3,"date":14,"utc":true},{"year":2021,"month":2,"date":7,"hours":12,"utc":true}]},
    "axis":{"values":[{"year":2020,"month":5,"date":1,"utc":true},{"year":2020,"month":7,"date":1,"utc":true},{"year":2020,"month":9,"date":1,"utc":true},{"year":2020,"month":11,"date":1,"utc":true},{"year":2021,"month":1,"date":1,"utc":true}],
     "labelExpr":"['jan','fev','mar','abr','mai','jun','jul','ago','set','out','nov','dez'][utcmonth(datum.value)] + ' ' + utcyear(datum.value)",
     "title":null,"grid":false,"ticks":false,"tickSize":0,"offset":76,"domainColor":"#474747","domainWidth":8,"domainCap":"round","labelPadding":-60,"labelFont":"Open Sans","labelFontSize":24,"labelColor":"#666666","labelFlush":false,"labelOverlap":false}},
   "y":{"field":"v","type":"quantitative","scale":{"domain":[0,0.9],"nice":false},
    "axis":{"values":[0,0.1,0.2,0.3,0.4,0.5,0.6,0.7,0.8,0.9],"format":".1f","offset":99,"domainColor":"#474747","domainWidth":8,"domainCap":"round","ticks":false,"tickSize":0,"labelPadding":-80,"labelAlign":"right","labelBaseline":"middle","labelFont":"Open Sans","labelFontSize":27,"labelColor":"#666666",
     "grid":true,"gridColor":"#c8c8c8","gridDash":[3,10],"gridWidth":2,
     "title":"Nº de Óbitos diários por 100 mil hab.","titleFont":"DejaVu Sans Condensed","titleFontSize":34,"titleFontWeight":"normal","titleColor":"#333333","titleAngle":-90,"titleX":-42,"titleY":423,"titleAlign":"center","titleBaseline":"middle","titleLimit":900}},
   "color":{"field":"s","type":"nominal","scale":{"domain":["BR","R10 - Porto Alegre","RS"],"range":["#e8d36a","#317840","#ddaaaa"]}},
   "strokeDash":{"field":"s","type":"nominal","scale":{"domain":["BR","R10 - Porto Alegre","RS"],"range":[[12,8],[1,0],[1,0]]}}
  }},
 {"transform":[{"filter":"datum.s === 'RS'"}],
  "mark":{"type":"line","strokeWidth":5,"strokeJoin":"round"},
  "encoding":{
   "x":{"field":"d","type":"temporal"},
   "y":{"field":"v","type":"quantitative"},
   "color":{"field":"s","type":"nominal","scale":{"domain":["BR","R10 - Porto Alegre","RS"],"range":["#e8d36a","#317840","#ddaaaa"]}},
   "strokeDash":{"field":"s","type":"nominal","scale":{"domain":["BR","R10 - Porto Alegre","RS"],"range":[[12,8],[1,0],[1,0]]}}
  }},
 {"transform":[{"filter":"datum.s === 'R10 - Porto Alegre'"}],
  "mark":{"type":"line","strokeWidth":8,"strokeJoin":"round"},
  "encoding":{
   "x":{"field":"d","type":"temporal"},
   "y":{"field":"v","type":"quantitative"},
   "color":{"field":"s","type":"nominal","scale":{"domain":["BR","R10 - Porto Alegre","RS"],"range":["#e8d36a","#317840","#ddaaaa"]}},
   "strokeDash":{"field":"s","type":"nominal","scale":{"domain":["BR","R10 - Porto Alegre","RS"],"range":[[12,8],[1,0],[1,0]]}}
  }},
 {"transform":[{"filter":"datum.t && ((datum.t === 'pico' && datum.v < 0.85) || (datum.t === 'vale' && datum.v < 0.01))"}],
  "mark":{"type":"text","align":"center","baseline":"alphabetic","dy":-16,"font":"Open Sans","fontSize":26,"color":"#111111"},
  "encoding":{"x":{"field":"d","type":"temporal"},"y":{"field":"v","type":"quantitative"},"text":{"field":"v","type":"quantitative","format":".2f"}}},
 {"transform":[{"filter":"datum.t && !((datum.t === 'pico' && datum.v < 0.85) || (datum.t === 'vale' && datum.v < 0.01))"}],
  "mark":{"type":"text","align":"center","baseline":"alphabetic","dy":43,"font":"Open Sans","fontSize":26,"color":"#111111"},
  "encoding":{"x":{"field":"d","type":"temporal"},"y":{"field":"v","type":"quantitative"},"text":{"field":"v","type":"quantitative","format":".2f"}}}
]
}
